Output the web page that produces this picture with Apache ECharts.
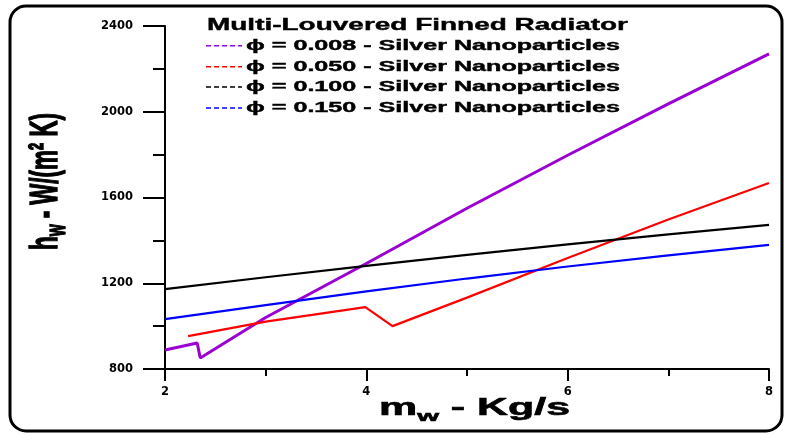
<!DOCTYPE html>
<html><head><meta charset="utf-8">
<script src="https://cdn.jsdelivr.net/npm/echarts@6/dist/echarts.min.js"></script>
<style>html,body{margin:0;padding:0;background:#fff}#c{width:786px;height:435px}</style>
</head><body><div id="c"></div>
<script>
// ---------- data ----------
const chartTitle = 'Multi-Louvered Finned Radiator';
const seriesNames = [
  'ϕ = 0.008 - Silver Nanoparticles',
  'ϕ = 0.050 - Silver Nanoparticles',
  'ϕ = 0.100 - Silver Nanoparticles',
  'ϕ = 0.150 - Silver Nanoparticles'
];
const xTicks = [2, 4, 6, 8];
const yTicks = [800, 1200, 1600, 2000, 2400];

const phi008X = [2, 2.32, 2.35, 3, 4, 5, 6, 7, 8];
const phi008Y = [889, 921, 851, 1040, 1292, 1550, 1797, 2037, 2270];

const phi050X = [2.23, 3, 3.99, 4.26, 5, 6, 7, 8];
const phi050Y = [953, 1021, 1089, 1000, 1133, 1318, 1497, 1668];

const phi100X = [2, 3, 4, 5, 6, 7, 8];
const phi100Y = [1173, 1228, 1281, 1332, 1381, 1428, 1472];

const phi150X = [2, 3, 4, 5, 6, 7, 8];
const phi150Y = [1033, 1098, 1162, 1222, 1278, 1330, 1379];

// ---------- styles ----------
const seriesColors = ['#9b00d3', '#ff0000', '#000000', '#0000ff'];
const seriesWidths = [3, 2.2, 2.2, 2.2];
const FF = '"Liberation Sans", Arial, sans-serif';

const seriesX = [phi008X, phi050X, phi100X, phi150X];
const seriesY = [phi008Y, phi050Y, phi100Y, phi150Y];

const mctx = document.createElement('canvas').getContext('2d');
function tw(text, font) { mctx.font = font; return mctx.measureText(text).width; }

const chart = echarts.init(document.getElementById('c'), null, {renderer: 'canvas'});

const graphics = [];
// outer rounded frame
graphics.push({type: 'rect', silent: true, z: 0,
  shape: {x: 10, y: 6, width: 772, height: 425, r: 16},
  style: {fill: 'none', stroke: '#000', lineWidth: 3}});

// legend title
const titleFont = 'bold 17px ' + FF;
graphics.push({type: 'text', silent: true, x: 207, y: 25.5,
  scaleX: 421 / tw(chartTitle, titleFont),
  style: {text: chartTitle, font: titleFont, fill: '#000', stroke: '#000', lineWidth: 0.4,
    align: 'left', verticalAlign: 'middle', textAlign: 'left', textVerticalAlign: 'middle'}});

// legend rows
const legendFont = 'bold 14px ' + FF;
const legendRowY = [45.7, 66.7, 87, 108];
seriesNames.forEach((name, i) => {
  graphics.push({type: 'line', silent: true,
    shape: {x1: 206, y1: legendRowY[i], x2: 242, y2: legendRowY[i]},
    style: {stroke: seriesColors[i], lineWidth: 1.5, lineDash: [5, 3]}});
  graphics.push({type: 'text', silent: true, x: 246, y: legendRowY[i],
    scaleX: 374 / tw(name, legendFont),
    style: {text: name, font: legendFont, fill: '#000', stroke: '#000', lineWidth: 0.4,
      align: 'left', verticalAlign: 'middle', textAlign: 'left', textVerticalAlign: 'middle'}});
});

// x axis title  m_w - Kg/s
const xtMain = 23, xtSub = 15;
const xtW = tw('m', 'bold ' + xtMain + 'px ' + FF) + tw('w', 'bold ' + xtSub + 'px ' + FF) +
            tw(' - Kg/s', 'bold ' + xtMain + 'px ' + FF);
graphics.push({type: 'text', silent: true, x: 474.5, y: 409,
  scaleX: 191 / xtW,
  style: {text: '{a|m}{s|w}{a| - Kg/s}', fill: '#000',
    align: 'center', verticalAlign: 'middle', textAlign: 'center', textVerticalAlign: 'middle',
    rich: {
      a: {fontSize: xtMain, fontWeight: 'bold', fontFamily: FF, fill: '#000', stroke: '#000', lineWidth: 0.6, lineHeight: 30, verticalAlign: 'middle'},
      s: {fontSize: xtSub, fontWeight: 'bold', fontFamily: FF, fill: '#000', stroke: '#000', lineWidth: 0.6, lineHeight: 14, verticalAlign: 'bottom'}
    }}});

// y axis title  h_w - W/(m² K)
const ytMain = 22, ytSub = 15;
const ytW = tw('h', 'bold ' + ytMain + 'px ' + FF) + tw('w', 'bold ' + ytSub + 'px ' + FF) +
            tw(' - W/(m² K)', 'bold ' + ytMain + 'px ' + FF);
graphics.push({type: 'text', silent: true, x: 46, y: 181.5, rotation: Math.PI / 2,
  scaleX: 137 / ytW, scaleY: 1.8,
  style: {text: '{a|h}{s|w}{a| - W/(m² K)}', fill: '#000',
    align: 'center', verticalAlign: 'middle', textAlign: 'center', textVerticalAlign: 'middle',
    rich: {
      a: {fontSize: ytMain, fontWeight: 'bold', fontFamily: FF, fill: '#000', stroke: '#000', lineWidth: 0.8, lineHeight: 28, verticalAlign: 'middle'},
      s: {fontSize: ytSub, fontWeight: 'bold', fontFamily: FF, fill: '#000', stroke: '#000', lineWidth: 0.8, lineHeight: 14, verticalAlign: 'bottom'}
    }}});

const tickLabelStyle = {color: '#000', fontFamily: '"DejaVu Sans", sans-serif', fontWeight: 'bold', fontSize: 11.5,
  formatter: v => String(v)};

const option = {
  animation: false,
  backgroundColor: '#fff',
  grid: {left: 165, right: 17, top: 26, bottom: 66, containLabel: false, outerBoundsMode: 'none'},
  xAxis: {
    type: 'value',
    min: xTicks[0], max: xTicks[xTicks.length - 1], interval: xTicks[1] - xTicks[0],
    axisLine: {show: true, onZero: false, lineStyle: {color: '#000', width: 2}},
    axisTick: {show: true, length: 12, lineStyle: {color: '#000', width: 2}},
    minorTick: {show: true, splitNumber: 2, length: 7, lineStyle: {color: '#000', width: 2}},
    splitLine: {show: false},
    axisLabel: Object.assign({margin: 17}, tickLabelStyle)
  },
  yAxis: {
    type: 'value',
    min: yTicks[0], max: yTicks[yTicks.length - 1], interval: yTicks[1] - yTicks[0],
    axisLine: {show: true, onZero: false, lineStyle: {color: '#000', width: 2}},
    axisTick: {show: true, length: 22, lineStyle: {color: '#000', width: 2}},
    minorTick: {show: true, splitNumber: 2, length: 12, lineStyle: {color: '#000', width: 2}},
    splitLine: {show: false},
    axisLabel: Object.assign({margin: 32}, tickLabelStyle)
  },
  series: seriesNames.map((name, i) => ({
    name: name,
    type: 'line',
    symbol: 'none',
    showSymbol: false,
    silent: true,
    clip: false,
    data: seriesX[i].map((x, j) => [x, seriesY[i][j]]),
    lineStyle: {color: seriesColors[i], width: seriesWidths[i]},
    itemStyle: {color: seriesColors[i]},
    z: 3 + i
  })),
  graphic: graphics
};
chart.setOption(option);
</script>
</body></html>
